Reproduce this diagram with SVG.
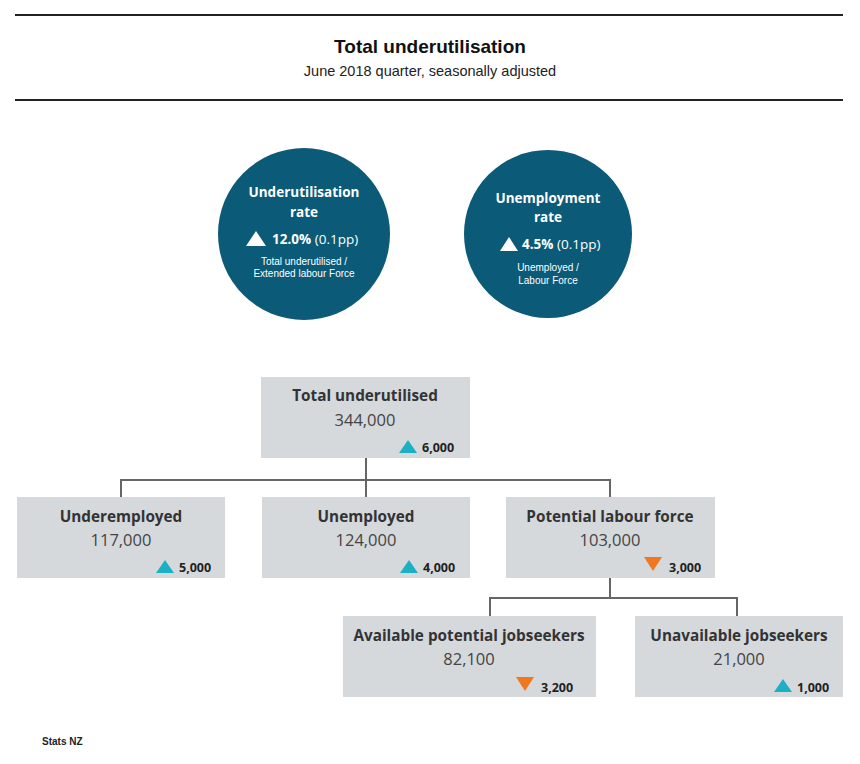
<svg xmlns="http://www.w3.org/2000/svg" width="860" height="764" viewBox="0 0 860 764">
<style>
.box{fill:#d5d9dc}
.h{font-family:"Open Sans","Liberation Sans",sans-serif;font-weight:bold;font-size:15.3px;fill:#333;text-anchor:middle}
.v{font-family:"Open Sans","Liberation Sans",sans-serif;font-size:16.5px;fill:#444;text-anchor:middle}
.d{font-family:"Open Sans","Liberation Sans",sans-serif;font-weight:bold;font-size:12.5px;fill:#222}
.up{fill:#1bb0c4}.dn{fill:#f07820}
.c{fill:#0a5a78}
.ct{font-family:"Open Sans","Liberation Sans",sans-serif;font-weight:bold;font-size:13.5px;fill:#fff;text-anchor:middle}
.cs{font-family:"Liberation Sans",sans-serif;font-size:10px;fill:#fff;text-anchor:middle}
.cp{font-family:"Open Sans","Liberation Sans",sans-serif;font-size:13.5px;fill:#fff}
.ln{stroke:#666;stroke-width:2;fill:none}
</style>
<rect width="860" height="764" fill="#fff"/>
<g id="header">
<line x1="15" y1="15" x2="843" y2="15" stroke="#222" stroke-width="2"/>
<line x1="15" y1="100" x2="843" y2="100" stroke="#222" stroke-width="2"/>
<text x="430" y="53" text-anchor="middle" font-family="Liberation Sans,sans-serif" font-weight="bold" font-size="19" fill="#111">Total underutilisation</text>
<text x="430" y="76" text-anchor="middle" font-family="Liberation Sans,sans-serif" font-size="14.5" fill="#222">June 2018 quarter, seasonally adjusted</text>
</g>
<g id="circle-underutilisation">
<circle class="c" cx="304" cy="234" r="86"/>
<text class="ct" x="304" y="197">Underutilisation</text>
<text class="ct" x="304" y="217">rate</text>
<polygon fill="#fff" points="246,246 256,231 266,246"/>
<text class="cp" x="272" y="244"><tspan font-weight="bold">12.0%</tspan> (0.1pp)</text>
<text class="cs" x="304" y="265">Total underutilised /</text>
<text class="cs" x="304" y="277">Extended labour Force</text>
</g>
<g id="circle-unemployment">
<circle class="c" cx="548" cy="234" r="84"/>
<text class="ct" x="548" y="203">Unemployment</text>
<text class="ct" x="548" y="222">rate</text>
<polygon fill="#fff" points="500,251 509,237 518,251"/>
<text class="cp" x="522" y="249"><tspan font-weight="bold">4.5%</tspan> (0.1pp)</text>
<text class="cs" x="548" y="271">Unemployed /</text>
<text class="cs" x="548" y="284">Labour Force</text>
</g>
<g id="connectors">
<path class="ln" d="M366,458 V480 M121,497 V480 H610 V497 M366,480 V497"/>
<path class="ln" d="M610,578 V598 M490,616 V598 H737 V616"/>
</g>
<g id="total">
<rect class="box" x="261" y="377" width="209" height="81"/>
<text class="h" x="365" y="401">Total underutilised</text>
<text class="v" x="365" y="426">344,000</text>
<polygon class="up" points="399,453 408,440 417,453"/>
<text class="d" x="422" y="452">6,000</text>
</g>
<g id="underemployed">
<rect class="box" x="17" y="497" width="208" height="81"/>
<text class="h" x="121" y="522">Underemployed</text>
<text class="v" x="121" y="546">117,000</text>
<polygon class="up" points="156,573 165,560 174,573"/>
<text class="d" x="179" y="572">5,000</text>
</g>
<g id="unemployed">
<rect class="box" x="262" y="497" width="208" height="81"/>
<text class="h" x="366" y="522">Unemployed</text>
<text class="v" x="366" y="546">124,000</text>
<polygon class="up" points="400,573 409,560 418,573"/>
<text class="d" x="423" y="572">4,000</text>
</g>
<g id="potential">
<rect class="box" x="506" y="497" width="209" height="81"/>
<text class="h" x="610" y="522">Potential labour force</text>
<text class="v" x="610" y="546">103,000</text>
<polygon class="dn" points="644,557 662,557 653,571"/>
<text class="d" x="669" y="572">3,000</text>
</g>
<g id="available">
<rect class="box" x="343" y="616" width="253" height="81"/>
<text class="h" x="469" y="641">Available potential jobseekers</text>
<text class="v" x="469" y="665">82,100</text>
<polygon class="dn" points="516,677 534,677 525,691"/>
<text class="d" x="541" y="692">3,200</text>
</g>
<g id="unavailable">
<rect class="box" x="635" y="616" width="208" height="81"/>
<text class="h" x="739" y="641">Unavailable jobseekers</text>
<text class="v" x="739" y="665">21,000</text>
<polygon class="up" points="774,692 783,679 792,692"/>
<text class="d" x="797" y="692">1,000</text>
</g>
<text x="42" y="745" font-family="Liberation Sans,sans-serif" font-weight="bold" font-size="10" fill="#222">Stats NZ</text>
</svg>
